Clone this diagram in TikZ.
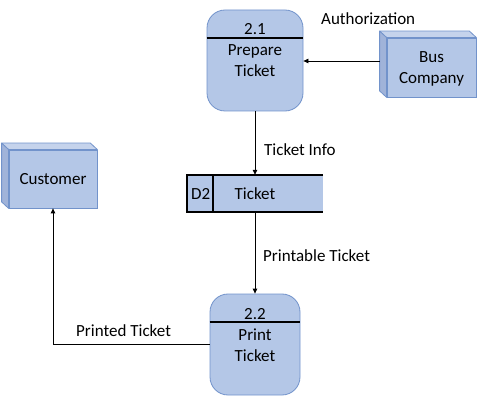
\documentclass[tikz,border=0pt]{standalone}
\usepackage{fontspec}
\setmainfont{Carlito}
\usetikzlibrary{arrows.meta,calc}
\definecolor{boxfill}{HTML}{B4C7E7}
\definecolor{boxline}{HTML}{7293CB}
\definecolor{topface}{HTML}{C5D3EC}
\definecolor{sideface}{HTML}{A0B3D9}
\newcommand\cubefaces[1]{%
  \filldraw[fill=topface,draw=boxline,line width=0.8pt,line join=round]
    (#1.north west) -- ++(-7,-6.5) -- ($(#1.north east)+(-7,-6.5)$) -- (#1.north east) -- cycle;
  \filldraw[fill=sideface,draw=boxline,line width=0.8pt,line join=round]
    (#1.north west) -- ++(-7,-6.5) -- ($(#1.south west)+(-7,-6.5)$) -- (#1.south west) -- cycle;
}
\begin{document}
\begin{tikzpicture}[x=1pt,y=-1pt,
  font=\fontsize{17}{20}\selectfont,
  proc/.style={draw=boxline, fill=boxfill, rounded corners=18pt, inner sep=0pt, line width=0.8pt},
  ext/.style={draw=boxline, fill=boxfill, inner sep=0pt, line width=0.8pt},
  lbl/.style={inner sep=0pt, anchor=base},
  lblw/.style={inner sep=0pt, anchor=base west},
  arr/.style={draw=black, line width=0.8pt, -{Triangle[length=5pt,width=4.5pt]}},
  divline/.style={line width=1.8pt, draw=black}]
\useasboundingbox (0,0) rectangle (485,401);

% processes
\node[proc, minimum width=96pt, minimum height=101pt] (p21) at (255,60.5) {};
\draw[divline] (p21.west |- 0,38) coordinate (p21dl) -- (p21.east |- 0,38) coordinate (p21dr);
\node[lbl] (t21a) at (255,35) {2.1};
\node[lbl] (t21b) at (255,56) {Prepare};
\node[lbl] (t21c) at (255,77) {Ticket};

\node[proc, minimum width=90pt, minimum height=101pt] (p22) at (255,344.5) {};
\draw[divline] (p22.west |- 0,322) coordinate (p22dl) -- (p22.east |- 0,322) coordinate (p22dr);
\node[lbl] (t22a) at (255,319) {2.2};
\node[lbl] (t22b) at (255,340) {Print};
\node[lbl] (t22c) at (255,361) {Ticket};

% external entities
\node[ext, minimum width=89pt, minimum height=59pt] (bus) at (431.5,67.5) {};
\cubefaces{bus}
\node[lbl] (busa) at (431.5,63) {Bus};
\node[lbl] (busb) at (431.5,84) {Company};

\node[ext, minimum width=88pt, minimum height=58pt] (cust) at (53,179) {};
\cubefaces{cust}
\node[lbl] (custt) at (53,185) {Customer};

% data store
\node[fill=boxfill, inner sep=0pt, minimum width=136pt, minimum height=37pt] (d2) at (255,193.5) {};
\draw[line width=1.8pt] (d2.north east) -- (d2.north west) -- (d2.south west) -- (d2.south east);
\draw[line width=1.5pt] ($(d2.north west)+(26,0)$) coordinate (d2a) -- ($(d2.south west)+(26,0)$) coordinate (d2b);
\node[lblw] (d2id) at (191,200) {D2};
\node[lbl] (d2name) at (255,200) {Ticket};

% connectors
\coordinate (busin) at ([xshift=-7pt,yshift=6.5pt]bus.west);
\draw[arr] (busin) -- (busin -| p21.east);
\node[lblw] (lauth) at (321,25) {Authorization};

\draw[arr] (p21.south) -- (d2.north);
\node[lblw] (linfo) at (264,156) {Ticket Info};

\draw[arr] (d2.south) -- (p22.north);
\node[lblw] (lprint) at (263,261) {Printable Ticket};

\draw[arr] (p22.west) -| (cust.south);
\node[lblw] (lprinted) at (76,336) {Printed Ticket};
\end{tikzpicture}
\end{document}
